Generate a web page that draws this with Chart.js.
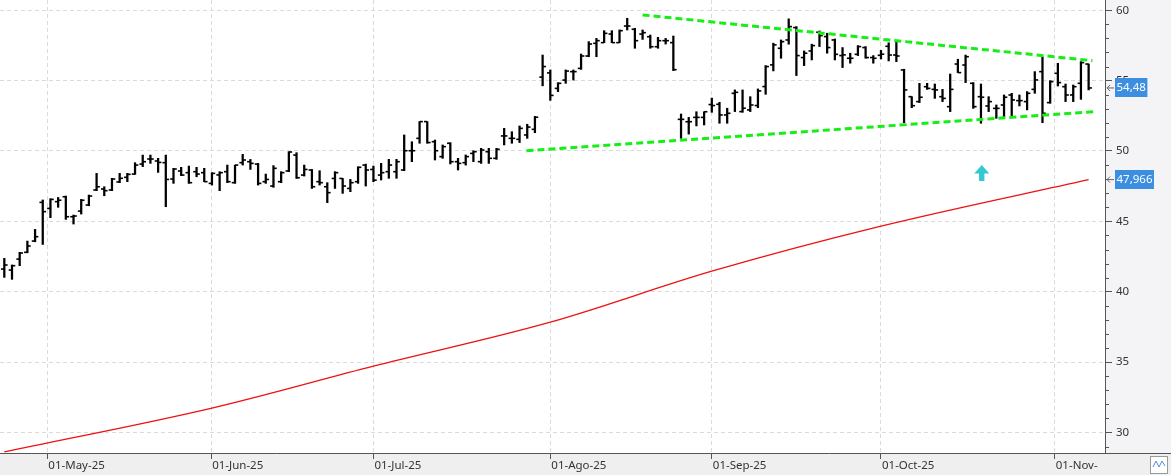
<!DOCTYPE html>
<html>
<head>
<meta charset="utf-8">
<script src="https://cdn.jsdelivr.net/npm/chart.js@4.4.1/dist/chart.umd.min.js"></script>
<style>
  html, body { margin: 0; padding: 0; background: #fff; }
  #wrap { width: 1171px; height: 475px; }
</style>
</head>
<body>
<div id="wrap"><canvas id="priceChart"></canvas></div>
<script>
// daily bars, 23-Apr-25 .. 07-Nov-25 (index = trading day)
const open = [41.61,41.54,42.32,42.80,43.60,46.35,45.92,46.40,46.75,45.33,45.73,46.16,47.23,47.30,47.23,47.80,48.13,48.36,49.07,49.43,
  49.29,49.17,48.01,48.58,48.46,48.53,48.46,47.70,48.30,48.53,47.75,49.17,49.24,49.07,47.82,47.51,47.82,48.58,49.71,48.29,
  48.65,47.82,47.46,48.05,48.05,47.34,47.82,49.00,48.69,48.29,48.53,48.53,48.65,50.02,50.90,52.09,50.66,49.60,50.55,49.24,
  49.17,49.83,49.24,49.95,49.48,51.07,50.90,50.83,51.14,51.54,55.25,55.55,54.45,55.04,55.64,55.87,56.75,57.65,57.70,58.31,
  57.70,58.88,58.65,58.31,58.12,57.41,57.84,57.70,52.25,52.08,52.39,52.39,53.30,53.32,52.56,54.10,52.80,52.92,53.23,54.58,
  56.12,57.30,57.89,58.77,56.64,57.11,58.44,58.13,57.89,56.78,56.59,56.87,57.35,56.64,56.80,57.44,56.82,55.76,53.86,53.51,
  54.57,54.38,53.86,53.15,56.18,56.11,54.81,53.86,53.20,53.03,53.27,53.98,53.58,53.51,54.38,55.64,53.44,55.52,54.57,53.98,
  54.81,56.18];
const high = [42.37,41.90,42.80,43.60,44.43,46.52,46.61,46.70,46.80,45.45,46.56,46.87,48.41,47.46,48.06,48.41,48.41,49.17,49.71,49.71,
  49.48,49.71,48.77,48.84,48.93,48.84,48.77,48.46,48.53,49.00,49.00,49.76,49.40,49.12,48.36,48.96,48.53,49.95,49.88,49.00,
  48.69,48.60,47.75,48.53,48.05,47.98,48.88,49.07,48.93,49.12,49.41,49.41,51.14,50.66,52.09,52.09,50.78,50.43,50.59,49.48,
  49.72,50.02,50.19,50.19,50.19,51.61,51.37,51.78,51.90,52.46,56.82,55.76,54.85,55.76,55.76,56.89,57.77,58.00,58.55,58.55,
  58.60,59.43,58.72,58.60,58.24,58.08,58.00,58.17,52.63,52.39,52.79,52.79,53.76,53.46,53.04,54.34,54.34,53.86,54.41,56.07,
  57.66,57.89,59.39,58.84,57.11,57.59,58.53,58.37,57.96,57.35,56.95,57.49,57.42,56.78,57.15,57.69,57.77,55.81,53.86,54.81,
  54.81,54.76,54.38,55.47,56.52,56.82,54.86,54.76,53.86,53.27,53.98,54.10,53.98,54.22,55.64,56.70,55.00,56.23,54.76,54.69,
  56.35,56.18];
const low = [41.02,40.88,41.85,42.77,43.55,43.36,45.26,46.00,45.14,44.81,45.52,46.11,47.18,46.82,47.18,47.75,47.82,48.34,48.89,49.12,
  48.48,46.04,47.70,48.25,47.70,48.17,47.82,47.58,47.18,47.75,47.70,49.00,48.69,47.58,47.70,47.42,47.75,48.53,48.05,48.22,
  47.34,47.58,46.33,47.34,46.99,47.11,47.70,47.51,47.82,47.94,48.06,48.06,48.60,49.24,50.55,50.55,49.36,49.48,49.08,48.65,
  49.00,49.24,49.12,49.12,49.41,50.43,50.55,50.60,50.90,51.30,54.63,53.60,54.22,54.81,55.04,55.80,56.70,56.70,57.70,57.70,
  57.70,58.60,57.30,57.93,57.30,57.30,57.60,55.71,50.90,51.20,51.78,51.85,52.75,51.97,51.97,52.80,52.75,52.80,53.08,54.03,
  55.69,56.59,57.59,55.36,56.07,56.47,57.42,56.95,56.47,55.93,56.24,56.78,56.59,56.24,56.54,56.40,56.35,52.01,53.08,53.44,
  54.38,53.74,53.51,52.80,55.57,54.86,53.03,51.97,52.80,52.32,52.39,52.39,53.20,52.92,54.10,52.01,53.39,54.62,53.51,53.51,
  53.67,54.34];
const close = [41.90,41.85,42.75,43.25,43.91,45.69,46.56,46.50,45.33,45.38,46.50,46.80,47.46,47.18,48.01,48.06,48.34,49.00,49.24,49.43,
  49.19,47.98,48.72,48.29,47.75,48.36,47.82,48.41,48.46,47.82,49.00,49.36,49.12,47.70,47.98,48.77,48.46,49.93,48.10,48.69,
  47.46,47.75,47.04,48.46,47.51,47.75,48.84,48.65,47.93,48.46,49.00,49.24,50.02,50.02,52.09,50.60,50.02,50.31,49.24,49.12,
  49.60,49.95,50.07,49.48,50.12,51.07,50.90,51.61,51.70,52.40,56.00,53.95,54.81,55.68,55.64,56.75,57.60,57.84,58.36,57.70,
  58.55,58.88,57.84,58.41,57.41,57.84,57.84,55.78,52.25,52.08,52.39,52.79,53.23,52.56,52.68,54.17,53.04,53.27,54.27,56.00,
  57.54,57.77,58.84,56.78,56.95,57.49,58.20,57.35,56.87,56.83,56.59,57.42,56.64,56.59,56.88,56.82,56.75,54.34,53.22,53.82,
  54.45,54.34,53.74,54.38,55.57,56.70,53.15,53.82,53.51,53.03,53.82,53.63,53.58,54.10,55.05,52.68,54.93,54.86,53.98,54.57,
  56.28,54.48];

// long moving average, read at a few bars
const maIdx = [0, 27, 48, 71, 92, 114, 141];
const maVal = [28.62, 31.73, 34.71, 37.84, 41.46, 44.66, 47.966];

// hand-drawn trend lines [bar index, price]
const upperTrend = [[83.0, 59.67], [141.5, 56.42]];
const lowerTrend = [[67.9, 50.02], [142.0, 52.80]];
const arrowAt = [127.1, 49.0];

// month marks on the time axis
const monthPos = [5.6, 26.9, 48, 71, 92, 114, 136.6];
const monthLabels = ['01-May-25', '01-Jun-25', '01-Jul-25', '01-Ago-25', '01-Sep-25', '01-Oct-25', '01-Nov-25'];

// last values shown on the price axis
const tagValues = [54.48, 47.966];
const tagLabels = ['54,48', '47,966'];

const pts = arr => arr.map((v, i) => ({x: i, y: v}));

Chart.defaults.font.family = "'Noto Sans', sans-serif";

const frame = {
    id: 'frame',
    beforeDraw(chart) {
        const {ctx, chartArea: a, width, height} = chart;
        ctx.save();
        ctx.fillStyle = '#f4f4f6';
        ctx.fillRect(0, 0, width, height);
        ctx.fillStyle = '#efefef';
        ctx.fillRect(0, a.bottom, width, height - a.bottom);
        ctx.fillStyle = '#ffffff';
        ctx.fillRect(a.left, a.top, a.right - a.left, a.bottom - a.top);
        ctx.restore();
    },
    afterDraw(chart) {
        const {ctx, chartArea: a, width, height} = chart;
        const x = chart.scales.x, y = chart.scales.y;
        ctx.save();

        // minor ticks on the price axis
        ctx.strokeStyle = '#555';
        ctx.lineWidth = 1;
        for (let v = Math.ceil(y.min); v <= y.max; v++) {
            if (v % 5 === 0) continue;
            const py = Math.round(y.getPixelForValue(v)) + 0.5;
            ctx.beginPath();
            ctx.moveTo(a.right, py);
            ctx.lineTo(a.right + 4, py);
            ctx.stroke();
        }

        // cyan signal arrow
        const ax = x.getPixelForValue(arrowAt[0]), ay = y.getPixelForValue(arrowAt[1]);
        ctx.fillStyle = '#36c8d0';
        ctx.beginPath();
        ctx.moveTo(ax, ay);
        ctx.lineTo(ax + 7.5, ay + 8.5);
        ctx.lineTo(ax + 2.7, ay + 8.5);
        ctx.lineTo(ax + 2.7, ay + 16);
        ctx.lineTo(ax - 2.7, ay + 16);
        ctx.lineTo(ax - 2.7, ay + 8.5);
        ctx.lineTo(ax - 7.5, ay + 8.5);
        ctx.closePath();
        ctx.fill();

        // value tags
        ctx.font = "11.5px 'Noto Sans'";
        ctx.textBaseline = 'middle';
        tagValues.forEach((v, k) => {
            const py = y.getPixelForValue(v);
            const w = ctx.measureText(tagLabels[k]).width + 3;
            ctx.fillStyle = '#3b8ee0';
            ctx.fillRect(a.right + 10, Math.round(py) - 10, w, 19);
            ctx.fillStyle = '#fff';
            ctx.fillText(tagLabels[k], a.right + 11.5, py);
            ctx.strokeStyle = '#666';
            ctx.beginPath();
            ctx.moveTo(a.right + 2, py);
            ctx.lineTo(a.right + 9, py);
            ctx.moveTo(a.right + 5, py - 3);
            ctx.lineTo(a.right + 2, py);
            ctx.lineTo(a.right + 5, py + 3);
            ctx.stroke();
        });

        // corner cell (cuts the last date label)
        ctx.fillStyle = '#efefef';
        ctx.fillRect(a.right - 7, a.bottom + 1, width - a.right + 7, height - a.bottom);
        ctx.strokeStyle = '#555';
        ctx.beginPath();
        ctx.moveTo(a.right, a.bottom + 0.5);
        ctx.lineTo(width, a.bottom + 0.5);
        ctx.stroke();
        ctx.fillStyle = '#fff';
        ctx.fillRect(1150.5, 456.5, 17, 17);
        ctx.strokeStyle = '#9a9a9a';
        ctx.strokeRect(1150.5, 456.5, 17, 17);
        ctx.strokeStyle = '#4a90d9';
        ctx.beginPath();
        ctx.moveTo(1153, 467); ctx.lineTo(1156, 461); ctx.lineTo(1159, 467); ctx.lineTo(1162, 461); ctx.lineTo(1165, 466);
        ctx.stroke();
        ctx.restore();
    }
};

new Chart(document.getElementById('priceChart'), {
    type: 'line',
    data: {
        datasets: [{
            type: 'bar',
            data: low.map((l, i) => ({x: i, y: [l, high[i]]})),
            backgroundColor: '#000',
            barThickness: 1.6,
            grouped: false,
            order: 5
        }, {
            data: pts(open),
            showLine: false,
            pointStyle: 'dash',
            pointRadius: 3.3,
            pointRotation: 180,
            pointBorderColor: '#000',
            pointBorderWidth: 1.6,
            order: 4
        }, {
            data: pts(close),
            showLine: false,
            pointStyle: 'dash',
            pointRadius: 3.3,
            pointBorderColor: '#000',
            pointBorderWidth: 1.6,
            order: 4
        }, {
            data: maIdx.map((v, k) => ({x: v, y: maVal[k]})),
            borderColor: '#ee1111',
            borderWidth: 1.3,
            pointRadius: 0,
            cubicInterpolationMode: 'monotone',
            order: 3
        }, {
            data: upperTrend.map(p => ({x: p[0], y: p[1]})),
            borderColor: '#16ee16',
            borderWidth: 3,
            borderDash: [7, 4],
            pointRadius: 0,
            order: 1
        }, {
            data: lowerTrend.map(p => ({x: p[0], y: p[1]})),
            borderColor: '#16ee16',
            borderWidth: 3,
            borderDash: [7, 4],
            pointRadius: 0,
            order: 1
        }]
    },
    options: {
        responsive: true,
        maintainAspectRatio: false,
        devicePixelRatio: 1,
        animation: false,
        events: [],
        layout: {padding: 0, autoPadding: false},
        plugins: {legend: {display: false}, tooltip: {enabled: false}},
        scales: {
            x: {
                type: 'linear',
                min: -0.56,
                max: 143.13,
                offset: false,
                afterBuildTicks: s => { s.ticks = monthPos.map(v => ({value: v})); },
                afterFit: s => { s.height = 22; s.paddingLeft = 0; s.paddingRight = 0; },
                grid: {color: '#dadada', tickColor: '#555', tickLength: 6, offset: false},
                border: {color: '#555', dash: [4, 3]},
                ticks: {
                    callback: (v, i) => monthLabels[i],
                    align: 'start',
                    labelOffset: 1,
                    padding: 0,
                    maxRotation: 0,
                    autoSkip: false,
                    color: '#333',
                    font: {size: 11.5}
                }
            },
            y: {
                position: 'right',
                min: 28.54,
                max: 60.73,
                afterFit: s => { s.width = 66; s.paddingTop = 0; s.paddingBottom = 0; },
                grid: {color: '#dadada', tickColor: '#555', tickLength: 7},
                border: {color: '#555', dash: [4, 3]},
                ticks: {stepSize: 5, includeBounds: false, padding: 4, color: '#333', font: {size: 11.5}}
            }
        }
    },
    plugins: [frame]
});
</script>
</body>
</html>
